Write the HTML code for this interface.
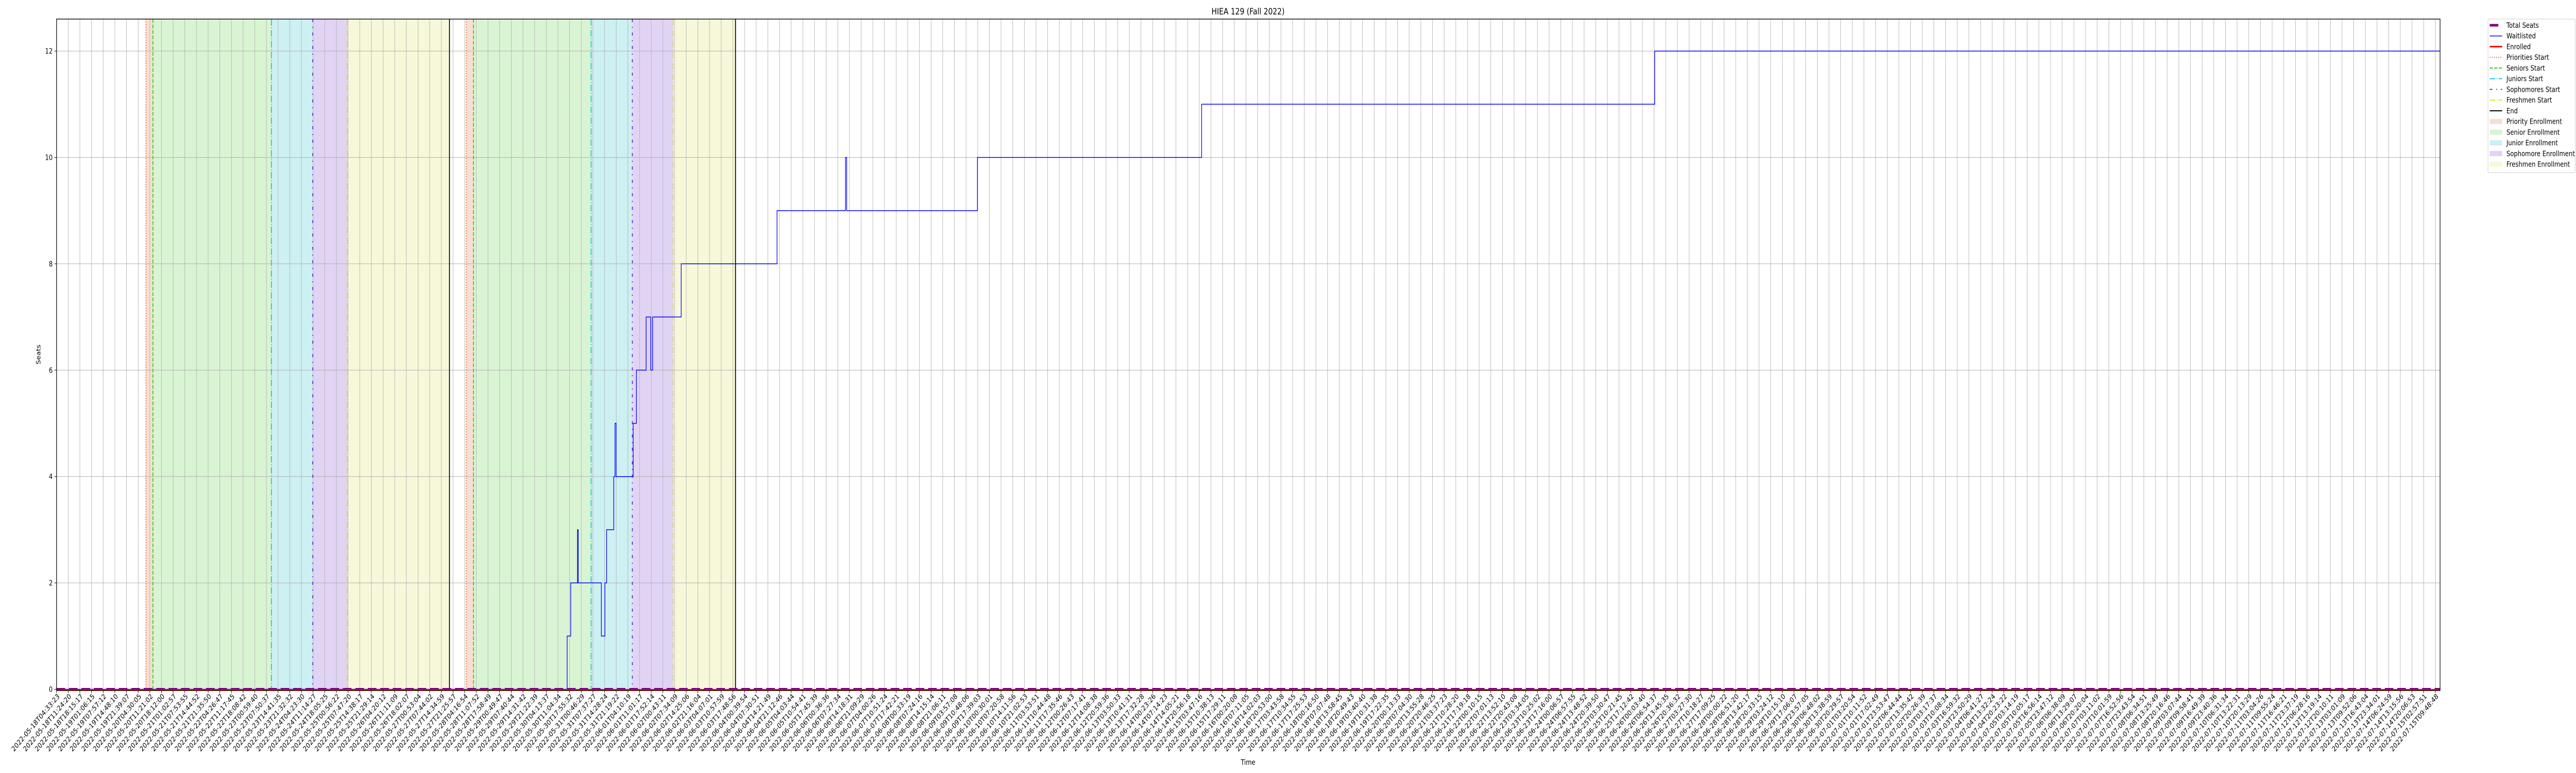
<!DOCTYPE html>
<html><head><meta charset="utf-8"><title>HIEA 129 (Fall 2022)</title>
<style>
html,body{margin:0;padding:0;background:#fff;overflow:hidden;width:100%;height:100%;}
svg{display:block;width:100vw;height:100vh;font-family:"DejaVu Sans","Liberation Sans",sans-serif;}
</style></head>
<body>
<svg id="chart" viewBox="0 0 6000 1500" preserveAspectRatio="none" xmlns="http://www.w3.org/2000/svg">
<rect width="6000" height="1500" fill="#fff"/>
<g id="spans"></g>
<g id="grid"></g>
<g id="vlines"></g>
<g id="series"></g>
<rect x="131.7" y="37" width="5551.7" height="1303" fill="none" stroke="#000" stroke-width="1.4"/>
<g id="xticks"></g>
<g id="yticks"></g>
<text x="2907" y="28" font-size="16.7" text-anchor="middle">HIEA 129 (Fall 2022)</text>
<text x="2907" y="1484" font-size="13.9" text-anchor="middle">Time</text>
<text x="0" y="0" font-size="13.9" text-anchor="middle" transform="translate(94,688) rotate(-90)">Seats</text>
<g id="legend"></g>
</svg>
<script>
// ---- data ----
const wlHours = [0, 299.9, 302.0, 306.0, 306.4, 320.0, 322.1, 323.1, 327.3, 328.0, 328.7, 338.7, 340.6, 346.3, 349.0, 350.1, 366.9, 423.2, 463.4, 464.1, 540.9, 672.6, 938.7, 1400];
const wlValues = [0, 1, 2, 3, 2, 1, 2, 3, 4, 5, 4, 5, 6, 7, 6, 7, 8, 9, 10, 9, 10, 11, 12, 12];
const enrolledValue = [0];
const totalSeatsValue = [0];
const priorityStarts = [52.5, 240.6];
const seniorStarts = [56.6, 244.9];
const juniorStarts = [126.2, 314.0];
const sophomoreStarts = [150.5, 338.2];
const freshmenStarts = [170.8, 362.2];
const endTimes = [230.8, 398.8];
const yTickValues = [0, 2, 4, 6, 8, 10, 12];
const tickCount = 205;
const tickStartMs = Date.UTC(2022, 4, 18, 4, 33, 23);
const tickStepHours = 6.8493;

// ---- axes ----
const X0 = 131.7, X1 = 5683.4, HMAX = 1400;
function xs(h){ return X0 + h * (X1 - X0) / HMAX; }
function ys(v){ return 1337.5 - v * 103.2; }
const NS = "http://www.w3.org/2000/svg";
function mk(tag, attrs, parent){
  const e = document.createElementNS(NS, tag);
  for (const k in attrs) e.setAttribute(k, attrs[k]);
  parent.appendChild(e); return e;
}
const spans = document.getElementById('spans');
const grid = document.getElementById('grid');
const vlines = document.getElementById('vlines');
const series = document.getElementById('series');
const xticks = document.getElementById('xticks');
const yticks = document.getElementById('yticks');
const legend = document.getElementById('legend');
const TOP = 37, BOT = 1340;

// spans
const spanDefs = [
  [priorityStarts, seniorStarts, '#f7ded3', 'priority-enrollment-span'],
  [seniorStarts, juniorStarts, '#d9f4d2', 'senior-enrollment-span'],
  [juniorStarts, sophomoreStarts, '#cdf0f2', 'junior-enrollment-span'],
  [sophomoreStarts, freshmenStarts, '#e1d3f4', 'sophomore-enrollment-span'],
  [freshmenStarts, endTimes, '#f7f8d9', 'freshmen-enrollment-span']
];
spanDefs.forEach(d => {
  for (let i = 0; i < d[0].length; i++) {
    const a = xs(d[0][i]), b = xs(d[1][i]);
    const r = mk('rect', {x: a, y: TOP, width: b - a, height: BOT - TOP, fill: d[2]}, spans);
    
    
  }
});

// grid
for (let i = 0; i < tickCount; i++) {
  const x = X0 + i * 27.16;
  const l = mk('line', {x1: x, x2: x, y1: TOP, y2: BOT, stroke: '#b0b0b0', 'stroke-width': 1}, grid);
  
  
}
yTickValues.forEach(v => {
  const l = mk('line', {x1: X0, x2: X1, y1: ys(v), y2: ys(v), stroke: '#b0b0b0', 'stroke-width': 1}, grid);
  
  
});

// phase lines
const lineDefs = [
  [priorityStarts, '#ee6a2c', '2,3', 'priorities-start-line'],
  [seniorStarts, '#33cc11', '7.4,3.2', 'seniors-start-line'],
  [juniorStarts, '#11c8d6', '12.8,3.2,2,3.2', 'juniors-start-line'],
  [sophomoreStarts, '#6622cc', '6,9,2,9', 'sophomores-start-line'],
  [freshmenStarts, '#e0e01a', '12.8,3.2,2,3.2', 'freshmen-start-line'],
  [endTimes, '#000000', '', 'end-line']
];
lineDefs.forEach(d => {
  d[0].forEach(h => {
    const x = xs(h);
    const attrs = {x1: x, x2: x, y1: TOP, y2: BOT, stroke: d[1], 'stroke-width': 2};
    if (d[2]) attrs['stroke-dasharray'] = d[2];
    const l = mk('line', attrs, vlines);
    
    
  });
});

// waitlisted step line
let pts = [];
for (let i = 0; i < wlHours.length; i++) {
  const x = xs(wlHours[i]);
  if (i > 0) pts.push(x + ',' + ys(wlValues[i - 1]));
  pts.push(x + ',' + ys(wlValues[i]));
}
const wl = mk('polyline', {points: pts.join(' '), fill: 'none', stroke: '#0000ff', 'stroke-width': 1.5}, series);



const en = mk('line', {x1: X0, x2: X1, y1: ys(enrolledValue[0]) + 1, y2: ys(enrolledValue[0]) + 1, stroke: '#ff0000', 'stroke-width': 3}, series);


const ts = mk('line', {x1: X0, x2: X1, y1: ys(totalSeatsValue[0]) - 1, y2: ys(totalSeatsValue[0]) - 1, stroke: '#800080', 'stroke-width': 3, 'stroke-dasharray': '20,9'}, series);



// x ticks & labels
function pad(n){ return (n < 10 ? '0' : '') + n; }
for (let i = 0; i < tickCount; i++) {
  const x = X0 + i * 27.16;
  const t = mk('line', {x1: x, x2: x, y1: BOT, y2: BOT + 4.9, stroke: '#000', 'stroke-width': 1}, xticks);
  
  
  const d = new Date(tickStartMs + i * tickStepHours * 3600000);
  const s = d.getUTCFullYear() + '-' + pad(d.getUTCMonth() + 1) + '-' + pad(d.getUTCDate()) + 'T' + pad(d.getUTCHours()) + ':' + pad(d.getUTCMinutes()) + ':' + pad(d.getUTCSeconds());
  const tx = mk('text', {x: 0, y: 0, dy: 10, 'font-size': 13.9, 'text-anchor': 'end', transform: 'translate(' + (x + 1) + ',' + (BOT + 5) + ') rotate(-45)'}, xticks);
  tx.textContent = s;
  
  
}
// y ticks
yTickValues.forEach(v => {
  const y = ys(v);
  const t = mk('line', {x1: X0 - 4.9, x2: X0, y1: y, y2: y, stroke: '#000', 'stroke-width': 1}, yticks);
  
  
  const tx = mk('text', {x: X0 - 9, y: y + 5, 'font-size': 13.9, 'text-anchor': 'end'}, yticks);
  tx.textContent = String(v);
  
  
});

// legend
const lb = mk('rect', {x: 5795, y: 37, width: 203, height: 298, rx: 3, fill: '#fff', stroke: '#cccccc', 'stroke-width': 1}, legend);


const legItems = [
  ['Total Seats', 'line', '#800080', 5, '', 20],
  ['Waitlisted', 'line', '#0000ff', 1.5, '', 29],
  ['Enrolled', 'line', '#ff0000', 3, '', 29],
  ['Priorities Start', 'line', '#ee6a2c', 2, '2,3', 29],
  ['Seniors Start', 'line', '#33cc11', 2, '7.4,3.2', 29],
  ['Juniors Start', 'line', '#11c8d6', 2, '12.8,3.2,2,3.2', 29],
  ['Sophomores Start', 'line', '#6622cc', 2, '6,9,2,9', 29],
  ['Freshmen Start', 'line', '#e0e01a', 2, '12.8,3.2,2,3.2', 29],
  ['End', 'line', '#000000', 2, '', 29],
  ['Priority Enrollment', 'patch', '#f7ded3'],
  ['Senior Enrollment', 'patch', '#d9f4d2'],
  ['Junior Enrollment', 'patch', '#cdf0f2'],
  ['Sophomore Enrollment', 'patch', '#e1d3f4'],
  ['Freshmen Enrollment', 'patch', '#f7f8d9']
];
legItems.forEach((it, i) => {
  const cy = 49 + i * 20.75;
  const g = mk('g', {}, legend);
  
  
  if (it[1] === 'line') {
    const a = {x1: 5799, x2: 5799 + it[5], y1: cy, y2: cy, stroke: it[2], 'stroke-width': it[3]};
    if (it[4]) a['stroke-dasharray'] = it[4];
    mk('line', a, g);
  } else {
    mk('rect', {x: 5799, y: cy - 5, width: 29, height: 10, fill: it[2]}, g);
  }
  const t = mk('text', {x: 5838, y: cy + 5, 'font-size': 13.9}, g);
  t.textContent = it[0];
});
</script>
</body></html>
